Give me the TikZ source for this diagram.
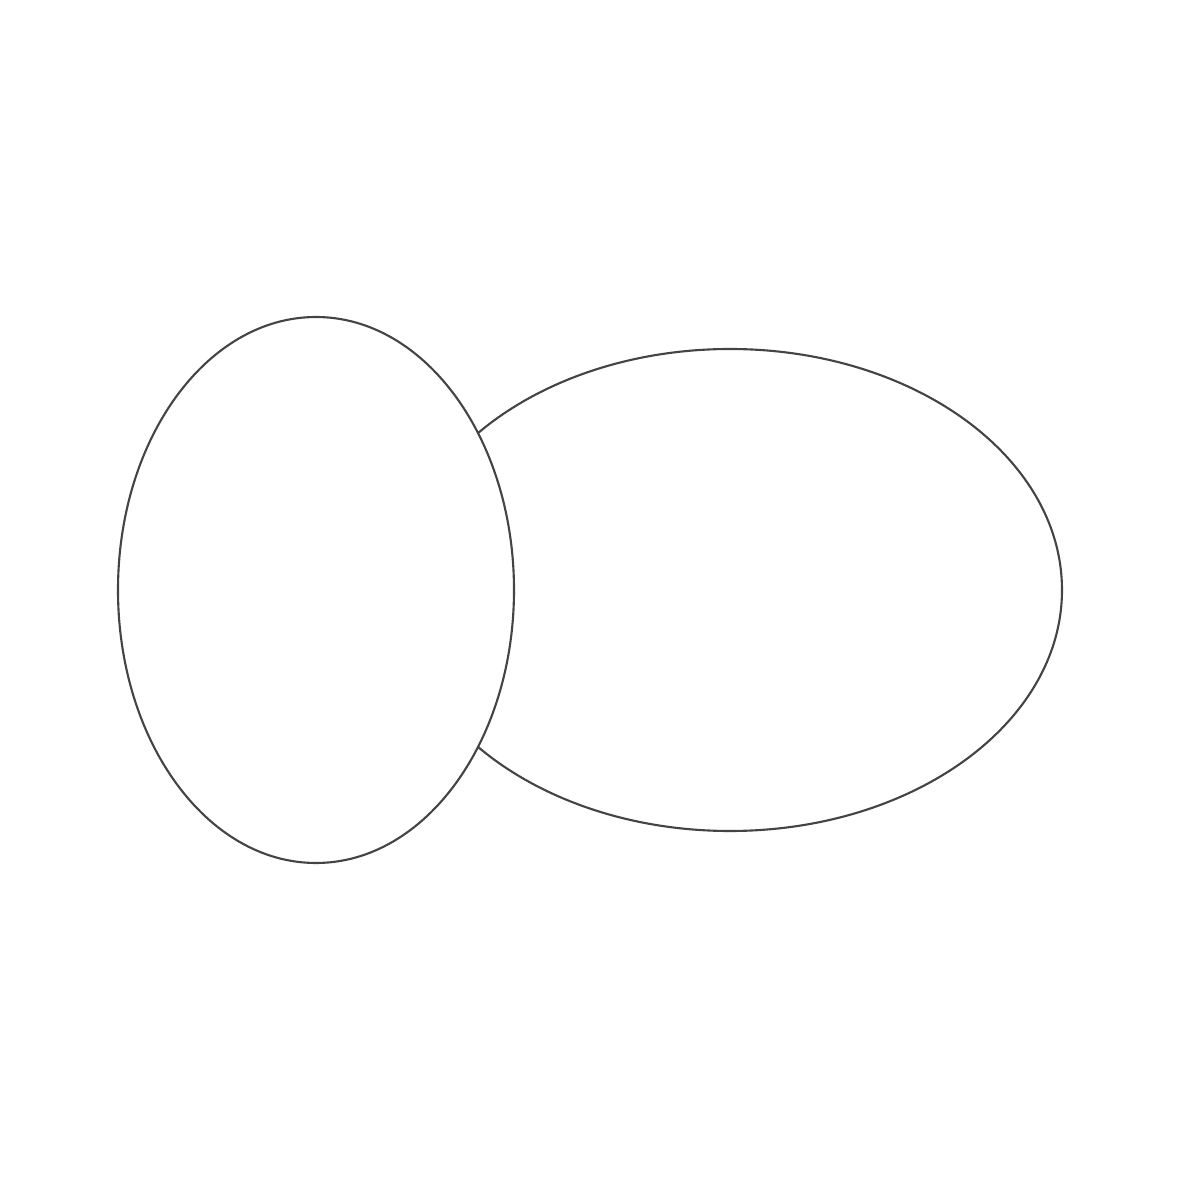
\documentclass[tikz,border=0pt]{standalone}
\usepackage{tikz}
\usepackage{xcolor}
\definecolor{edgegray}{HTML}{444444}

\begin{document}
\begin{tikzpicture}[x=0.01cm,y=0.01cm]
      \useasboundingbox (0,0) rectangle (1181,1181);
      \draw[edgegray, line width=0.6pt, fill=white] (730,591) ellipse (332 and 241);
      \draw[edgegray, line width=0.6pt, fill=white] (316,591) ellipse (198 and 273);
    \end{tikzpicture}
\end{document}
